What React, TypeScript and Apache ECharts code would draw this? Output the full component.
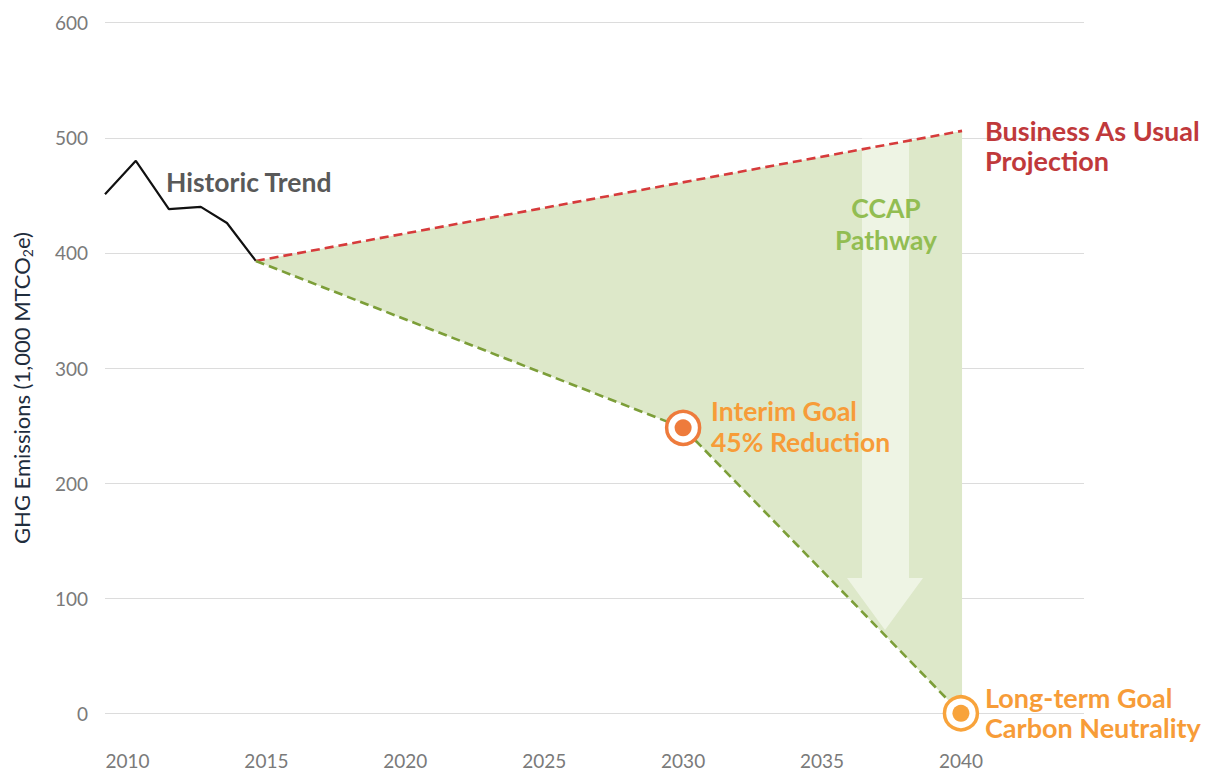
import React, { useEffect, useRef } from "react";
import * as echarts from "echarts";

// ---- data ----
const xTickYears = [2010, 2015, 2020, 2025, 2030, 2035, 2040];
const yTicks = [0, 100, 200, 300, 400, 500, 600];
const historicTrend: [number, number][] = [
  [2009.19, 451],
  [2010.3, 480],
  [2011.49, 438],
  [2012.64, 440],
  [2013.58, 426],
  [2014.62, 393],
];
const businessAsUsual: [number, number][] = [
  [2014.62, 393],
  [2040.04, 506],
];
const ccapPathway: [number, number][] = [
  [2014.62, 393],
  [2030, 248],
  [2040, 0],
];
const interimGoal: [number, number][] = [[2030, 248]];
const longTermGoal: [number, number][] = [[2040, 0]];

const FONT = "Lato, 'Open Sans', sans-serif";

export default function App() {
  const ref = useRef<HTMLDivElement>(null);

  useEffect(() => {
    if (!ref.current) return;
    const chart = echarts.init(ref.current, undefined, { renderer: "svg" });

    const fillPoly: [number, number][] = [
      ...businessAsUsual,
      [businessAsUsual[businessAsUsual.length - 1][0], ccapPathway[ccapPathway.length - 1][1]],
      ...ccapPathway.slice().reverse(),
    ];

    const option: any = {
      animation: false,
      backgroundColor: "#ffffff",
      textStyle: { fontFamily: FONT },
      grid: {
        left: 105,
        right: 123,
        top: 22.7,
        bottom: 57.7,
        containLabel: false,
        outerBoundsMode: "none",
      },
      xAxis: {
        type: "value",
        min: 2009.19,
        max: 2044.43,
        axisLine: { show: false },
        axisTick: { show: false },
        splitLine: { show: false },
        axisLabel: {
          customValues: xTickYears,
          formatter: (v: number) => String(Math.round(v)),
          color: "#7a7a7a",
          fontSize: 19,
          fontFamily: FONT,
          margin: 38,
        },
      },
      yAxis: {
        type: "value",
        min: 0,
        max: 600,
        interval: 100,
        axisLine: { show: false },
        axisTick: { show: false },
        splitLine: { lineStyle: { color: "#dcdcdc", width: 1 } },
        axisLabel: {
          customValues: yTicks,
          color: "#7a7a7a",
          fontSize: 19,
          fontFamily: FONT,
          margin: 17,
        },
        name: "{a|GHG Emissions (1,000 MTCO}{s|2}{a|e)}",
        nameLocation: "middle",
        nameGap: 71,
        nameTextStyle: {
          padding: [0, 40, 0, 0],
          rich: {
            a: { fontSize: 22, color: "#1f2d3d", fontFamily: FONT, lineHeight: 26, verticalAlign: "middle" },
            s: { fontSize: 14, color: "#1f2d3d", fontFamily: FONT, lineHeight: 26, verticalAlign: "bottom" },
          },
        },
      },
      series: [
        {
          type: "custom",
          z: 1,
          silent: true,
          data: [fillPoly[0]],
          renderItem: (_params: any, api: any) => ({
            type: "polygon",
            shape: { points: fillPoly.map((p) => api.coord(p)) },
            style: { fill: "#dde8c9" },
          }),
        },
        {
          type: "line",
          z: 4,
          data: historicTrend,
          symbol: "none",
          lineStyle: { color: "#111111", width: 2.2 },
        },
        {
          type: "line",
          z: 4,
          data: businessAsUsual,
          symbol: "none",
          lineStyle: { color: "#d63b3b", width: 2.6, type: [9, 5] },
        },
        {
          type: "line",
          z: 4,
          data: ccapPathway,
          symbol: "none",
          lineStyle: { color: "#7c9e38", width: 2.6, type: [9, 5] },
        },
        {
          type: "scatter",
          z: 5,
          data: interimGoal,
          symbol: "circle",
          symbolSize: 33,
          itemStyle: { color: "#ffffff", borderColor: "#ee7b3c", borderWidth: 3.5, opacity: 1 },
        },
        {
          type: "scatter",
          z: 6,
          data: interimGoal,
          symbol: "circle",
          symbolSize: 17,
          itemStyle: { color: "#ee7b3c", opacity: 1 },
        },
        {
          type: "scatter",
          z: 5,
          data: longTermGoal,
          symbol: "circle",
          symbolSize: 33,
          itemStyle: { color: "#ffffff", borderColor: "#f8a33b", borderWidth: 3.5, opacity: 1 },
        },
        {
          type: "scatter",
          z: 6,
          data: longTermGoal,
          symbol: "circle",
          symbolSize: 17,
          itemStyle: { color: "#f8a33b", opacity: 1 },
        },
      ],
      graphic: [
        {
          type: "polygon",
          z: 2,
          silent: true,
          shape: {
            points: [
              [862, 130],
              [909, 130],
              [909, 578],
              [923, 578],
              [885, 630],
              [847, 578],
              [862, 578],
            ],
          },
          style: { fill: "rgba(255,255,255,0.5)" },
        },
        {
          type: "text",
          z: 10,
          x: 166,
          y: 182,
          style: {
            text: "Historic Trend",
            font: `bold 26.5px ${FONT}`,
            fill: "#595959",
            verticalAlign: "middle",
            align: "left",
          },
        },
        {
          type: "text",
          z: 10,
          x: 985,
          y: 145,
          style: {
            text: "Business As Usual\nProjection",
            font: `bold 27px ${FONT}`,
            lineHeight: 30,
            fill: "#c0393b",
            verticalAlign: "middle",
            align: "left",
          },
        },
        {
          type: "text",
          z: 10,
          x: 886,
          y: 224,
          style: {
            text: "CCAP\nPathway",
            font: `bold 26.5px ${FONT}`,
            lineHeight: 32,
            fill: "#92bd52",
            verticalAlign: "middle",
            align: "center",
          },
        },
        {
          type: "text",
          z: 10,
          x: 711,
          y: 426.5,
          style: {
            text: "Interim Goal\n45% Reduction",
            font: `bold 26.5px ${FONT}`,
            lineHeight: 31,
            fill: "#f79c38",
            verticalAlign: "middle",
            align: "left",
          },
        },
        {
          type: "text",
          z: 10,
          x: 985,
          y: 712,
          style: {
            text: "Long-term Goal\nCarbon Neutrality",
            font: `bold 27px ${FONT}`,
            lineHeight: 30,
            fill: "#f79c38",
            verticalAlign: "middle",
            align: "left",
          },
        },
      ],
    };

    chart.setOption(option);
    return () => chart.dispose();
  }, []);

  return (
    <div
      ref={ref}
      style={{ position: "fixed", left: 0, top: 0, width: 1207, height: 771 }}
    />
  );
}
